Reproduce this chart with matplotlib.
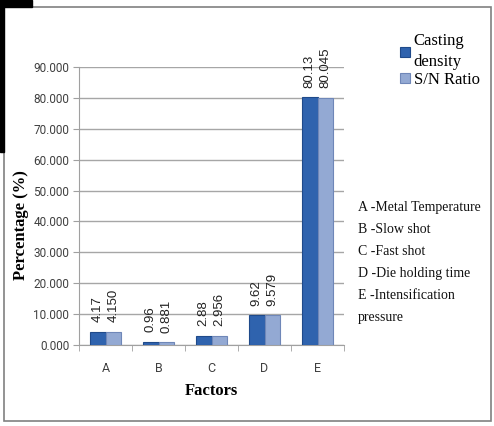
import matplotlib.pyplot as plt
from matplotlib.patches import Rectangle

factors = ["A", "B", "C", "D", "E"]
casting_density = [4.17, 0.96, 2.88, 9.62, 80.13]
sn_ratio = [4.150, 0.881, 2.956, 9.579, 80.045]
casting_labels = ["4.17", "0.96", "2.88", "9.62", "80.13"]
sn_labels = ["4.150", "0.881", "2.956", "9.579", "80.045"]
descriptions = [
    "A -Metal Temperature",
    "B -Slow shot",
    "C -Fast shot",
    "D -Die holding time",
    "E -Intensification",
    "pressure",
]

W, H = 494, 426
fig = plt.figure(figsize=(W / 100, H / 100), dpi=100)

# frame and the black corner from the source image
fig.patches.append(Rectangle((4 / W, 1 - 421 / H), 487 / W, 414 / H,
                             transform=fig.transFigure, fill=False,
                             edgecolor="#808080", linewidth=1.2))
fig.patches.append(Rectangle((0, 1 - 7 / H), 32 / W, 7 / H,
                             transform=fig.transFigure, color="black"))
fig.patches.append(Rectangle((0, 1 - 152 / H), 4 / W, 152 / H,
                             transform=fig.transFigure, color="black"))

ax = fig.add_axes([79 / W, 1 - 345 / H, 265 / W, 278 / H])

x = list(range(len(factors)))
w = 0.3
b1 = ax.bar([i - w / 2 for i in x], casting_density, w, color="#2F63AE",
            edgecolor="#1F4A8A", linewidth=0.8, label="Casting\ndensity", zorder=3)
b2 = ax.bar([i + w / 2 for i in x], sn_ratio, w, color="#93A9D3",
            edgecolor="#6F87B8", linewidth=0.8, label="S/N Ratio", zorder=3)

for bars, labels in ((b1, casting_labels), (b2, sn_labels)):
    for bar, lab in zip(bars, labels):
        ax.annotate(lab, (bar.get_x() + bar.get_width() / 2, bar.get_height()),
                    xytext=(0, 7), textcoords="offset points", rotation=90,
                    ha="center", va="bottom", fontsize=9.5,
                    family="Liberation Sans", color="#222222")

tick_font = ["Roboto", "DejaVu Sans"]
ax.set_xlim(-0.5, 4.5)
ax.set_ylim(0, 90)
ax.set_yticks(range(0, 91, 10))
ax.set_yticklabels([f"{v:.3f}" for v in range(0, 91, 10)],
                   family=tick_font, fontsize=8.5, color="#404040")
ax.set_xticks(x)
ax.set_xticklabels(factors, family=tick_font, fontsize=9, color="#404040")
ax.tick_params(axis="x", length=0, pad=12)
ax.set_xticks([i - 0.5 for i in range(6)], minor=True)
ax.tick_params(axis="x", which="minor", length=4, color="#A0A0A0")
ax.tick_params(axis="y", length=4, color="#A0A0A0", pad=3)

ax.grid(axis="y", color="#A6A6A6", linewidth=1, zorder=0)
for s in ("top", "right"):
    ax.spines[s].set_visible(False)
ax.spines["left"].set_color("#A0A0A0")
ax.spines["bottom"].set_color("#A0A0A0")

ax.set_xlabel("Factors", family="Liberation Serif", fontweight="bold",
              fontsize=12, labelpad=6)
ax.set_ylabel("Percentage (%)", family="Liberation Serif", fontweight="bold",
              fontsize=12, va="center")
ax.yaxis.set_label_coords(-0.22, 0.43)

leg = fig.legend(handles=[b1, b2], loc="upper left",
                 bbox_to_anchor=(392 / W, 1 - 25 / H), frameon=False,
                 prop={"family": "Liberation Serif", "size": 12},
                 handlelength=0.6, handleheight=0.6, handletextpad=0.2,
                 labelspacing=0.1, borderpad=0)
for t in leg.get_texts():
    t.set_linespacing(1.4)

for k, txt in enumerate(descriptions):
    fig.text(358 / W, 1 - (207 + 22.2 * k) / H, txt, family="Liberation Serif",
             fontsize=10, va="center", ha="left", color="#111111")

fig.savefig("out.png", dpi=100)
